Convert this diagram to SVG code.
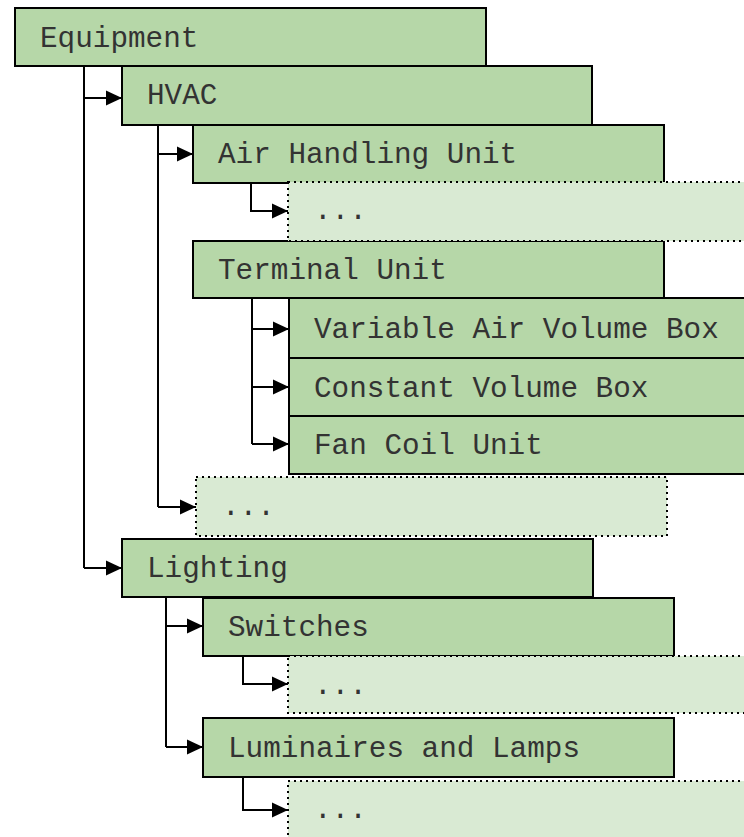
<svg xmlns="http://www.w3.org/2000/svg" width="744" height="837" viewBox="0 0 744 837">
<style>
.box{fill:#b6d7a8;stroke:#000;stroke-width:2}
.more{fill:#d9ead3;stroke:#000;stroke-width:2;stroke-dasharray:2 4}
.t{font-family:"Liberation Mono","Courier New",monospace;font-size:29.33px;fill:#333}
.c{fill:none;stroke:#000;stroke-width:2}
</style>
<defs>
<marker id="ah" markerUnits="userSpaceOnUse" markerWidth="16" markerHeight="16" refX="16" refY="8" orient="auto">
<path d="M0,0.5 L16,8 L0,15.5 Z" fill="#000"/>
</marker>
</defs>
<rect width="744" height="837" fill="#fff"/>
<g id="equipment"><rect class="box" x="15" y="8" width="471" height="58"/><text class="t" x="40" y="46.5">Equipment</text></g>
<g id="hvac"><rect class="box" x="122" y="66" width="470" height="59"/><text class="t" x="147" y="104">HVAC</text></g>
<g id="ahu"><rect class="box" x="193" y="125" width="471" height="58"/><text class="t" x="218" y="163">Air Handling Unit</text></g>
<g id="tu"><rect class="box" x="193" y="241" width="471" height="57"/><text class="t" x="218" y="279">Terminal Unit</text></g>
<g id="vav"><rect class="box" x="289" y="298" width="470" height="60"/><text class="t" x="314" y="338">Variable Air Volume Box</text></g>
<g id="cvb"><rect class="box" x="289" y="358" width="470" height="58"/><text class="t" x="314" y="397">Constant Volume Box</text></g>
<g id="fcu"><rect class="box" x="289" y="416" width="470" height="58"/><text class="t" x="314" y="454">Fan Coil Unit</text></g>
<g id="ahu-more"><rect class="more" x="288" y="182" width="470" height="59"/><text class="t" x="314" y="219">...</text></g>
<g id="hvac-more"><rect class="more" x="196" y="477" width="471" height="59"/><text class="t" x="222" y="515">...</text></g>
<g id="lighting"><rect class="box" x="122" y="539" width="471" height="58"/><text class="t" x="147" y="577">Lighting</text></g>
<g id="switches"><rect class="box" x="203" y="598" width="471" height="58"/><text class="t" x="228" y="636">Switches</text></g>
<g id="switches-more"><rect class="more" x="288" y="656" width="470" height="57"/><text class="t" x="314" y="694">...</text></g>
<g id="luminaires"><rect class="box" x="203" y="718" width="471" height="59"/><text class="t" x="228" y="757">Luminaires and Lamps</text></g>
<g id="luminaires-more"><rect class="more" x="288" y="781" width="470" height="70"/><text class="t" x="314" y="818">...</text></g>
<g id="connectors">
<path class="c" d="M84,66 V568"/>
<path class="c" d="M84,98 H122" marker-end="url(#ah)"/>
<path class="c" d="M84,568 H122" marker-end="url(#ah)"/>
<path class="c" d="M158,125 V507"/>
<path class="c" d="M158,154 H193" marker-end="url(#ah)"/>
<path class="c" d="M158,507 H196" marker-end="url(#ah)"/>
<path class="c" d="M251,183 V211 H288" marker-end="url(#ah)"/>
<path class="c" d="M252,298 V444"/>
<path class="c" d="M252,329 H289" marker-end="url(#ah)"/>
<path class="c" d="M252,387 H289" marker-end="url(#ah)"/>
<path class="c" d="M252,444 H289" marker-end="url(#ah)"/>
<path class="c" d="M166,597 V747"/>
<path class="c" d="M166,626 H203" marker-end="url(#ah)"/>
<path class="c" d="M166,747 H203" marker-end="url(#ah)"/>
<path class="c" d="M243,656 V684 H288" marker-end="url(#ah)"/>
<path class="c" d="M243,777 V810 H288" marker-end="url(#ah)"/>
</g>
</svg>
